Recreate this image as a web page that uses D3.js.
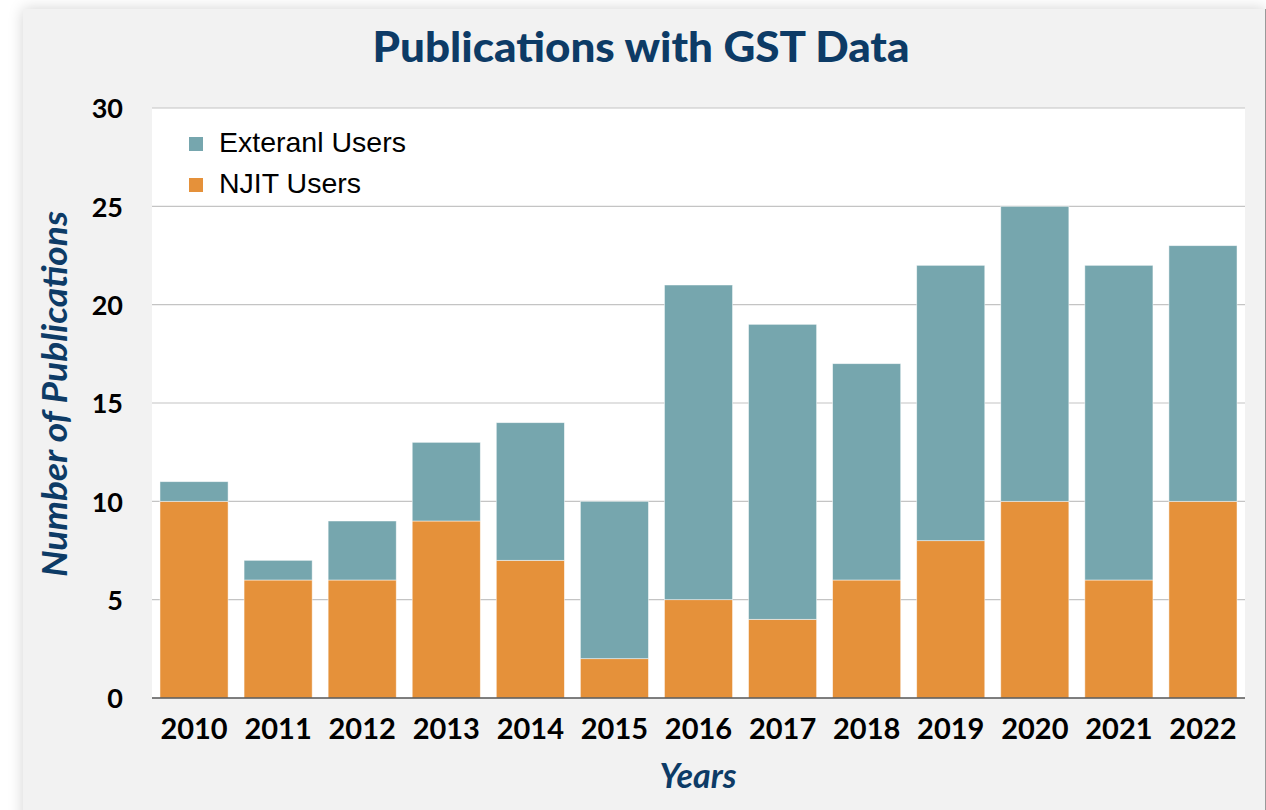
<!DOCTYPE html>
<html>
<head>
<meta charset="utf-8">
<script src="https://cdn.jsdelivr.net/npm/d3@7"></script>
<style>
  html, body { margin: 0; padding: 0; background: #ffffff; width: 1266px; height: 810px; overflow: hidden; }
  #panel {
    position: absolute; left: 23px; top: 9px; width: 1242px; height: 820px;
    background: #f2f2f2; box-shadow: 0 0 14px rgba(0,0,0,0.18);
    border-right: 1px solid #9a9a9a;
  }
  svg { position: absolute; left: 0; top: 0; }
</style>
</head>
<body>
<div id="panel"></div>
<svg id="chart" width="1266" height="810"></svg>
<script>
// Publication counts per year, split by user group
const years = ["2010","2011","2012","2013","2014","2015","2016","2017","2018","2019","2020","2021","2022"];
const njitUsers     = [10, 6, 6, 9, 7, 2, 5, 4, 6, 8, 10, 6, 10];
const externalUsers = [1, 1, 3, 4, 7, 8, 16, 15, 11, 14, 15, 16, 13];
const yTicks = [0, 5, 10, 15, 20, 25, 30];
const seriesNames = ["Exteranl Users", "NJIT Users"];

const colors = { ext: "#76a6ae", njit: "#e5913a" };
const navy = "#0d3b66";

const plot = { left: 152, right: 1245, top: 108, bottom: 698 };
const svg = d3.select("#chart");

const x = d3.scaleBand()
  .domain(years)
  .range([plot.left, plot.right])
  .paddingInner(0.19)
  .paddingOuter(0.095);

const y = d3.scaleLinear()
  .domain([0, 30])
  .range([plot.bottom, plot.top]);

// white plotting area
svg.append("rect")
  .attr("x", plot.left).attr("y", plot.top)
  .attr("width", plot.right - plot.left).attr("height", plot.bottom - plot.top)
  .attr("fill", "#ffffff");

// horizontal gridlines
svg.append("g")
  .selectAll("line")
  .data(yTicks.filter(d => d > 0))
  .join("line")
  .attr("x1", plot.left).attr("x2", plot.right)
  .attr("y1", d => y(d)).attr("y2", d => y(d))
  .attr("stroke", "#c4c4c4").attr("stroke-width", 1.2);

// stacked bars: NJIT at the bottom, external users on top
const rows = years.map((yr, i) => ({ year: yr, njit: njitUsers[i], ext: externalUsers[i] }));
const stack = d3.stack().keys(["njit", "ext"])(rows);

svg.append("g")
  .selectAll("g")
  .data(stack)
  .join("g")
  .attr("fill", d => colors[d.key])
  .selectAll("rect")
  .data(d => d)
  .join("rect")
  .attr("x", d => x(d.data.year))
  .attr("width", x.bandwidth())
  .attr("y", d => y(d[1]))
  .attr("height", d => y(d[0]) - y(d[1]))
  .attr("stroke", "rgba(255,255,255,0.6)")
  .attr("stroke-width", 0.8);

// baseline
svg.append("line")
  .attr("x1", plot.left).attr("x2", plot.right)
  .attr("y1", y(0)).attr("y2", y(0))
  .attr("stroke", "#555555").attr("stroke-width", 1.5);

// y axis labels
const yAxis = d3.axisLeft(y).tickValues(yTicks).tickSize(0).tickPadding(29);
const gy = svg.append("g").attr("transform", `translate(${plot.left},0)`).call(yAxis);
gy.select(".domain").remove();
gy.selectAll("text")
  .attr("font-family", "Lato, sans-serif")
  .attr("font-weight", "bold")
  .attr("font-size", 27)
  .attr("fill", "#000")
  .attr("dy", "0.36em");

// x axis labels
const xAxis = d3.axisBottom(x).tickSize(0).tickPadding(20);
const gx = svg.append("g").attr("transform", `translate(0,${plot.bottom})`).call(xAxis);
gx.select(".domain").remove();
gx.selectAll("text")
  .attr("font-family", "Lato, sans-serif")
  .attr("font-weight", "bold")
  .attr("font-size", 29)
  .attr("fill", "#000");

// title
svg.append("text")
  .attr("x", 641).attr("y", 62)
  .attr("text-anchor", "middle")
  .attr("font-family", "Lato, sans-serif")
  .attr("font-weight", "900")
  .attr("font-size", 42)
  .attr("textLength", 537)
  .attr("lengthAdjust", "spacingAndGlyphs")
  .attr("fill", navy)
  .text("Publications with GST Data");

// axis titles
svg.append("text")
  .attr("transform", "translate(67,394) rotate(-90)")
  .attr("text-anchor", "middle")
  .attr("font-family", "Lato, sans-serif")
  .attr("font-weight", "bold")
  .attr("font-style", "italic")
  .attr("font-size", 35)
  .attr("textLength", 366)
  .attr("lengthAdjust", "spacingAndGlyphs")
  .attr("fill", navy)
  .text("Number of Publications");

svg.append("text")
  .attr("x", 698).attr("y", 788)
  .attr("text-anchor", "middle")
  .attr("font-family", "Lato, sans-serif")
  .attr("font-weight", "bold")
  .attr("font-style", "italic")
  .attr("font-size", 34)
  .attr("fill", navy)
  .text("Years");

// legend
const legend = svg.append("g");
const legendItems = [
  { name: seriesNames[0], color: colors.ext },
  { name: seriesNames[1], color: colors.njit }
];
legend.selectAll("rect")
  .data(legendItems)
  .join("rect")
  .attr("x", 189)
  .attr("y", (d, i) => 137 + i * 41)
  .attr("width", 14).attr("height", 14)
  .attr("fill", d => d.color);
legend.selectAll("text")
  .data(legendItems)
  .join("text")
  .attr("x", 219)
  .attr("y", (d, i) => 152 + i * 41)
  .attr("font-family", "'Liberation Sans', Arial, sans-serif")
  .attr("font-size", 28.5)
  .attr("fill", "#000")
  .text(d => d.name);
</script>
</body>
</html>
